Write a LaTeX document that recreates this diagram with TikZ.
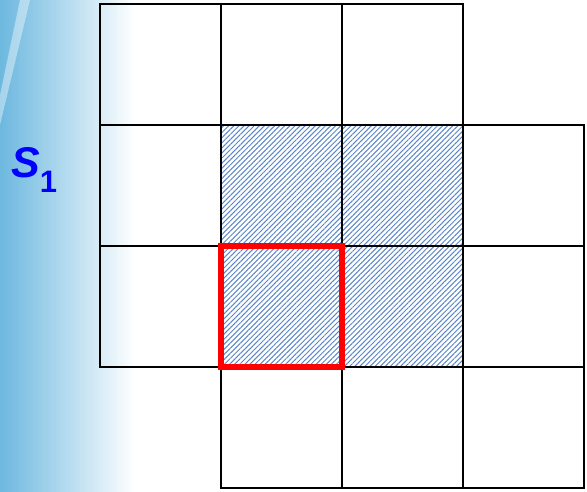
\documentclass[tikz,border=0pt]{standalone}
\usepackage{fontspec}
\setmainfont{Liberation Sans}
\usetikzlibrary{patterns.meta,positioning}
\definecolor{hatch}{HTML}{5A86C8}
\definecolor{sky}{HTML}{6DB8DF}
\definecolor{lbl}{HTML}{0000FF}
\tikzset{
  cell/.style={draw=black,line width=2.2pt,minimum size=121pt,inner sep=0pt,outer sep=0pt},
  hcell/.style={cell,pattern={Lines[angle=45,distance=3.6pt,line width=1pt]},pattern color=hatch},
  selcell/.style={draw=red,line width=5.4pt,minimum size=121pt,inner sep=0pt,outer sep=0pt},
}

\begin{document}
\begin{tikzpicture}[x=1pt,y=-1pt]
\useasboundingbox (0,0) rectangle (587,492);
% background swoosh
\shade[left color=sky,middle color=sky!35,right color=white] (0,0) rectangle (135,492);
\fill[white,opacity=0.4] (20,0) -- (30,0) -- (0,125) -- (0,95) -- cycle;
% plain cells
\foreach \r/\c in {0/0,0/1,0/2,1/0,1/3,2/0,2/3,3/1,3/2,3/3}
  \node[cell] (c\r\c) at ({160.5+121*\c},{64.5+121*\r}) {};
% hatched cells
\foreach \r/\c in {1/1,1/2,2/1,2/2}
  \node[hcell] (c\r\c) at ({160.5+121*\c},{64.5+121*\r}) {};
\node[selcell] (sel) at (c21) {};
% label
\node[anchor=base west,inner sep=0pt,text=lbl] (s1) at (11,178)
  {{\fontsize{43}{43}\selectfont\bfseries\itshape S}\raisebox{-15pt}{\fontsize{31}{31}\selectfont\bfseries 1}};
\end{tikzpicture}
\end{document}
